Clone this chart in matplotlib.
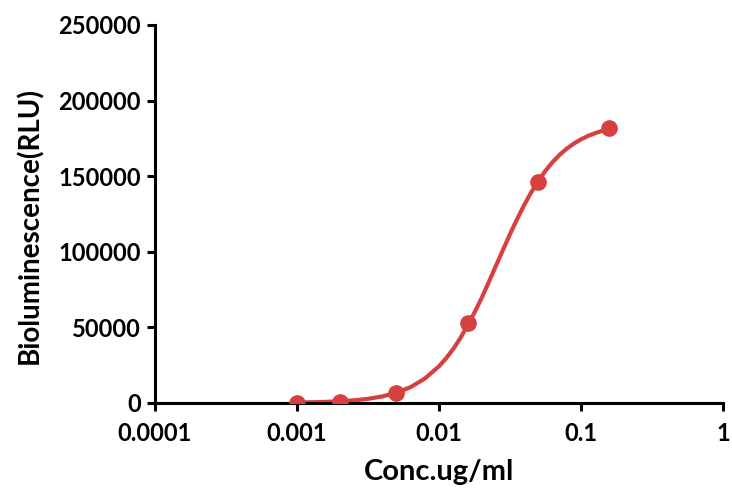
import matplotlib
matplotlib.use("Agg")
import matplotlib.pyplot as plt
import matplotlib.ticker as mticker

# measured points
conc = [0.001, 0.002, 0.005, 0.016, 0.05, 0.158]
rlu = [300, 800, 6700, 53000, 146200, 181900]

# fitted curve
curve_x = [0.001, 0.00158, 0.00251, 0.00316, 0.00398, 0.00501, 0.00631,
           0.00794, 0.01, 0.01122, 0.0126, 0.01413, 0.0158, 0.01778, 0.02,
           0.02239, 0.0251, 0.02818, 0.0316, 0.03548, 0.0398, 0.04467,
           0.0501, 0.05623, 0.0631, 0.07079, 0.0794, 0.08913, 0.1, 0.1122,
           0.126, 0.1413, 0.158]
curve_y = [280, 700, 1740, 2750, 4320, 6750, 10480, 16080, 24260, 29540,
           35720, 42840, 50890, 59830, 69530, 79830, 90420, 101110, 111580,
           121570, 130900, 139420, 146990, 153600, 159310, 164160, 168220,
           171600, 174370, 176640, 178490, 180000, 181190]

x_ticks = [0.0001, 0.001, 0.01, 0.1, 1]
x_tick_labels = ["0.0001", "0.001", "0.01", "0.1", "1"]
y_ticks = [0, 50000, 100000, 150000, 200000, 250000]

RED = "#d6403f"

plt.rcParams["font.family"] = ["Lato", "DejaVu Sans"]
plt.rcParams["font.weight"] = "bold"

fig = plt.figure(figsize=(7.32, 4.95), dpi=100)
ax = fig.add_axes([0.2117, 0.1859, 0.776, 0.7636])

ax.plot(curve_x, curve_y, color=RED, lw=3, solid_capstyle="round", zorder=2)
ax.plot(conc, rlu, "o", color=RED, ms=11, zorder=3)

ax.set_xscale("log")
ax.set_xlim(0.0001, 1)
ax.set_ylim(0, 250000)
ax.xaxis.set_major_locator(mticker.FixedLocator(x_ticks))
ax.xaxis.set_minor_locator(mticker.NullLocator())
ax.set_xticklabels(x_tick_labels)
ax.set_yticks(y_ticks)
ax.set_yticklabels([str(v) for v in y_ticks])

for side in ("top", "right"):
    ax.spines[side].set_visible(False)
for side in ("left", "bottom"):
    ax.spines[side].set_linewidth(2.2)
ax.tick_params(width=2.2, length=6, labelsize=17, pad=4)
ax.tick_params(axis="x", pad=8)
for lab in ax.get_xticklabels() + ax.get_yticklabels():
    lab.set_fontweight("bold")

ax.set_xlabel("Conc.ug/ml", fontsize=21, fontweight="bold")
ax.set_ylabel("Bioluminescence(RLU)", fontsize=20, fontweight="bold")
ax.xaxis.set_label_coords(0.5, -0.148)
ax.yaxis.set_label_coords(-0.197, 0.47)

fig.savefig("out.png", dpi=100)
